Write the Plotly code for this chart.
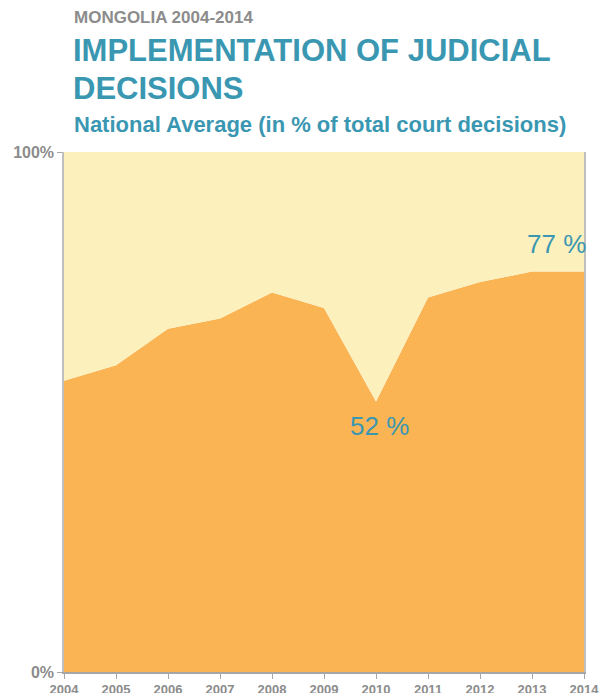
import plotly.graph_objects as go

years = [2004, 2005, 2006, 2007, 2008, 2009, 2010, 2011, 2012, 2013, 2014]
implemented = [56, 59, 66, 68, 73, 70, 52, 72, 75, 77, 77]
total = [100] * len(years)
ytick_vals = [0, 100]
ytick_text = ["0%", "100%"]

ORANGE = "#FBB454"
YELLOW = "#FCF0BD"
TEAL = "#3A97B2"
GRAY = "#8C8C8C"
FONT = "Liberation Sans, Arial, sans-serif"

W, H = 599, 693
L, R, T, B = 64, 15, 152, 21
PW, PH = W - L - R, H - T - B

fig = go.Figure()
fig.add_trace(go.Scatter(x=years, y=implemented, mode="lines", line=dict(width=0, color=ORANGE),
                         fill="tozeroy", fillcolor=ORANGE, hoverinfo="skip", showlegend=False))
fig.add_trace(go.Scatter(x=years, y=total, mode="lines", line=dict(width=0, color=YELLOW),
                         fill="tonexty", fillcolor=YELLOW, hoverinfo="skip", showlegend=False))

fig.update_layout(
    width=W, height=H,
    margin=dict(l=L, r=R, t=T, b=B, autoexpand=False),
    paper_bgcolor="white", plot_bgcolor="white",
    showlegend=False,
    xaxis=dict(range=[2004, 2014], tickmode="array", tickvals=years, ticktext=[str(y) for y in years],
               showgrid=False, zeroline=False, showline=True, linecolor="#A6A6A6", linewidth=1.5,
               mirror=False, ticks="outside", ticklen=5, tickcolor="#A6A6A6", ticklabelstandoff=0,
               ticklabeloverflow="allow",
               tickfont=dict(family=FONT, size=13, color=GRAY, weight="bold"), tickangle=0,
               automargin=False),
    yaxis=dict(range=[0, 100], tickmode="array", tickvals=ytick_vals, ticktext=ytick_text,
               showgrid=False, zeroline=False, showline=True, linecolor="#BFBFBF", linewidth=1.5,
               mirror=True, ticks="outside", ticklen=5, tickcolor="#A6A6A6",
               tickfont=dict(family=FONT, size=16, color=GRAY, weight="bold"), automargin=False),
)

def px_to_paper(px, py):
    return (px - L) / PW, (H - B - py) / PH

annots = [
    dict(text="<b>MONGOLIA 2004-2014</b>", x=72, y=17.5, size=17, color=GRAY),
    dict(text="<b>IMPLEMENTATION OF JUDICIAL</b>", x=71, y=50.5, size=31, color=TEAL),
    dict(text="<b>DECISIONS</b>", x=71, y=88.5, size=31, color=TEAL),
    dict(text="<b>National Average (in % of total court decisions)</b>", x=72, y=125, size=22, color=TEAL),
]
for a in annots:
    xp, yp = px_to_paper(a["x"], a["y"])
    fig.add_annotation(text=a["text"], xref="paper", yref="paper", x=xp, y=yp,
                       xanchor="left", yanchor="middle", showarrow=False,
                       font=dict(family=FONT, size=a["size"], color=a["color"]))

fig.add_annotation(x=years[9], y=implemented[9], text=f"{implemented[9]} %", showarrow=False,
                   xanchor="center", yanchor="bottom", xshift=24, yshift=11,
                   font=dict(family=FONT, size=26, color=TEAL))
fig.add_annotation(x=years[6], y=implemented[6], text=f"{implemented[6]} %", showarrow=False,
                   xanchor="center", yanchor="top", xshift=3, yshift=-7,
                   font=dict(family=FONT, size=26, color=TEAL))

fig.write_html("out.html", config={"displayModeBar": False},
               post_script="document.body.style.margin='0';document.body.style.overflow='hidden';")
